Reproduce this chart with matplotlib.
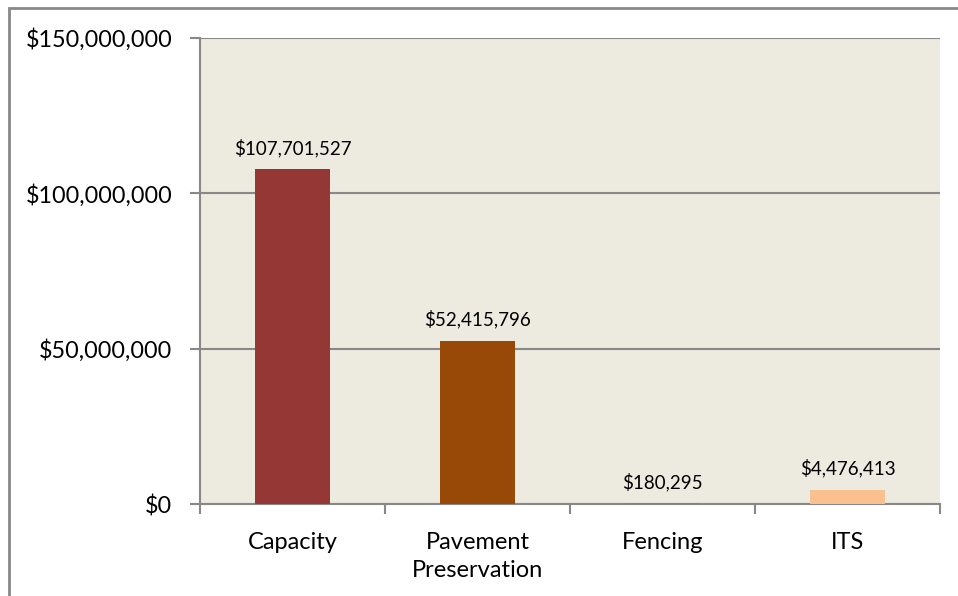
import matplotlib.pyplot as plt
from matplotlib.patches import Rectangle

categorias = ['Capacity', 'Pavement\nPreservation', 'Fencing', 'ITS']
valores = [107701527, 52415796, 180295, 4476413]
rotulos = ['$107,701,527', '$52,415,796', '$180,295', '$4,476,413']
cores = ['#953735', '#984807', '#77933C', '#FAC090']
ticks_y = [0, 50000000, 100000000, 150000000]
ticks_y_txt = ['$0', '$50,000,000', '$100,000,000', '$150,000,000']

plt.rcParams['font.family'] = ['Lato', 'DejaVu Sans']

fig = plt.figure(figsize=(9.58, 5.96), dpi=100)
ax = fig.add_axes([200/958, 92/596, 740/958, 466/596])
ax.set_facecolor('#EDEAE0')

x = range(len(categorias))
ax.bar(x, valores, width=0.405, color=cores, zorder=3)

for i, v in enumerate(valores):
    ax.annotate(rotulos[i], (i, v), xytext=(0, 9), textcoords='offset points',
                ha='center', va='bottom', fontsize=13.5)

ax.set_xlim(-0.5, 3.5)
ax.set_ylim(0, 150000000)
ax.set_yticks(ticks_y)
ax.set_yticklabels(ticks_y_txt, fontsize=16.8)
ax.set_xticks(x)
ax.set_xticklabels(categorias, fontsize=17, linespacing=1.45)
ax.set_xticks([-0.5, 0.5, 1.5, 2.5, 3.5], minor=True)
ax.tick_params(axis='x', which='major', length=0, pad=20)
ax.tick_params(axis='x', which='minor', length=7, color='#888888', width=1.5)
ax.tick_params(axis='y', length=7, color='#888888', width=1.5, pad=13)
ax.grid(axis='y', color='#888888', linewidth=1.5, zorder=0)

for s in ['top', 'right']:
    ax.spines[s].set_visible(False)
for s in ['left', 'bottom']:
    ax.spines[s].set_color('#888888')
    ax.spines[s].set_linewidth(1.5)

# moldura externa do grafico
fig.patches.append(Rectangle((9/958, -0.05), 1.0, (596-8)/596 + 0.05,
                             transform=fig.transFigure, fill=False,
                             edgecolor='#888888', linewidth=2, clip_on=False))

fig.savefig('out.png', dpi=100)
